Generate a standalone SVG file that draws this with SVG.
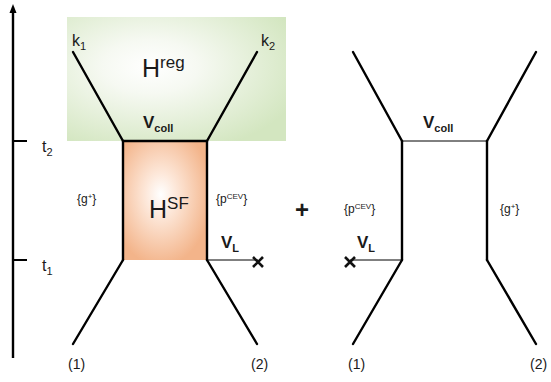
<svg xmlns="http://www.w3.org/2000/svg" width="551" height="382" viewBox="0 0 551 382">
<style>
text{font-family:"Liberation Sans",Arial,sans-serif;fill:#1a1a1a}
.thick{stroke:#000;stroke-width:2.4;fill:none;stroke-linecap:round}
.thin{stroke:#000;stroke-width:1;fill:none}
.small{font-size:12px}
.lbl{font-size:16px}
.num{font-size:14px}
.bold{font-weight:bold}
.x{stroke:#111;stroke-width:2.6;stroke-linecap:butt}
</style>
<defs>
<radialGradient id="gg" cx="0.38" cy="0.4" r="0.72">
<stop offset="0" stop-color="#ffffff"/>
<stop offset="0.3" stop-color="#f6f9f2"/>
<stop offset="1" stop-color="#d3e6c0"/>
</radialGradient>
<radialGradient id="og" cx="0.45" cy="0.45" r="0.6">
<stop offset="0" stop-color="#ffffff"/>
<stop offset="0.3" stop-color="#fde8da"/>
<stop offset="1" stop-color="#f3b48a"/>
</radialGradient>
</defs>
<g id="axis">
<line x1="13" y1="358" x2="13" y2="10" stroke="#000" stroke-width="2.4"/>
<path d="M9.5,13 L13,4 L16.5,13 Z" fill="#000"/>
<line x1="13" y1="141" x2="27" y2="141" stroke="#000" stroke-width="2"/>
<line x1="13" y1="260" x2="27" y2="260" stroke="#000" stroke-width="2"/>
<text x="42" y="152" class="lbl">t<tspan font-size="11" dy="4">2</tspan></text>
<text x="42" y="271" class="lbl">t<tspan font-size="11" dy="4">1</tspan></text>
</g>
<g id="hreg">
<rect x="67" y="17" width="219" height="124" fill="url(#gg)"/>
<text x="142" y="77" font-size="25">H<tspan font-size="17" dy="-9">reg</tspan></text>
</g>
<g id="hsf">
<rect x="123" y="141" width="84" height="119" fill="url(#og)"/>
<text x="149" y="218" font-size="25">H<tspan font-size="17" dy="-9">SF</tspan></text>
</g>
<g id="connectors">
<line class="thick" x1="73" y1="52" x2="123" y2="141"/>
<line class="thick" x1="257" y1="52" x2="207" y2="141"/>
<line class="thick" x1="123" y1="141" x2="207" y2="141"/>
<line class="thick" x1="123" y1="141" x2="123" y2="260"/>
<line class="thick" x1="207" y1="141" x2="207" y2="260"/>
<line class="thick" x1="123" y1="260" x2="73" y2="344"/>
<line class="thick" x1="207" y1="260" x2="257" y2="344"/>
<line class="thin" x1="207" y1="260" x2="258" y2="260"/>
<line class="thick" x1="353" y1="52" x2="402" y2="141"/>
<line class="thick" x1="536" y1="52" x2="487" y2="141"/>
<line class="thin" x1="402" y1="141" x2="487" y2="141"/>
<line class="thick" x1="402" y1="141" x2="402" y2="260"/>
<line class="thick" x1="487" y1="141" x2="487" y2="260"/>
<line class="thick" x1="402" y1="260" x2="353" y2="344"/>
<line class="thick" x1="487" y1="260" x2="536" y2="344"/>
<line class="thin" x1="402" y1="260" x2="350" y2="260"/>
</g>
<g id="crosses">
<path class="x" d="M253,257 L263,267 M263,257 L253,267"/>
<path class="x" d="M345,257 L355,267 M355,257 L345,267"/>
</g>
<g id="labels">
<text x="72" y="46" class="lbl">k<tspan font-size="11" dy="4">1</tspan></text>
<text x="261" y="46" class="lbl">k<tspan font-size="11" dy="4">2</tspan></text>
<text x="143" y="128" font-size="17" class="bold">V<tspan font-size="11" dy="4">coll</tspan></text>
<text x="423" y="128" font-size="17" class="bold">V<tspan font-size="11" dy="4">coll</tspan></text>
<text x="77" y="203" class="small">{g<tspan font-size="8" dy="-4">+</tspan><tspan dy="4">}</tspan></text>
<text x="216" y="203" class="small">{p<tspan font-size="8" dy="-4">CEV</tspan><tspan dy="4">}</tspan></text>
<text x="344" y="213" class="small">{p<tspan font-size="8" dy="-4">CEV</tspan><tspan dy="4">}</tspan></text>
<text x="500" y="213" class="small">{g<tspan font-size="8" dy="-4">+</tspan><tspan dy="4">}</tspan></text>
<text x="221" y="248" font-size="17" class="bold">V<tspan font-size="11" dy="4">L</tspan></text>
<text x="357" y="248" font-size="17" class="bold">V<tspan font-size="11" dy="4">L</tspan></text>
<text x="295" y="218" font-size="24" class="bold">+</text>
<text x="68" y="369" class="num">(1)</text>
<text x="251" y="369" class="num">(2)</text>
<text x="348" y="369" class="num">(1)</text>
<text x="530" y="369" class="num">(2)</text>
</g>
</svg>
